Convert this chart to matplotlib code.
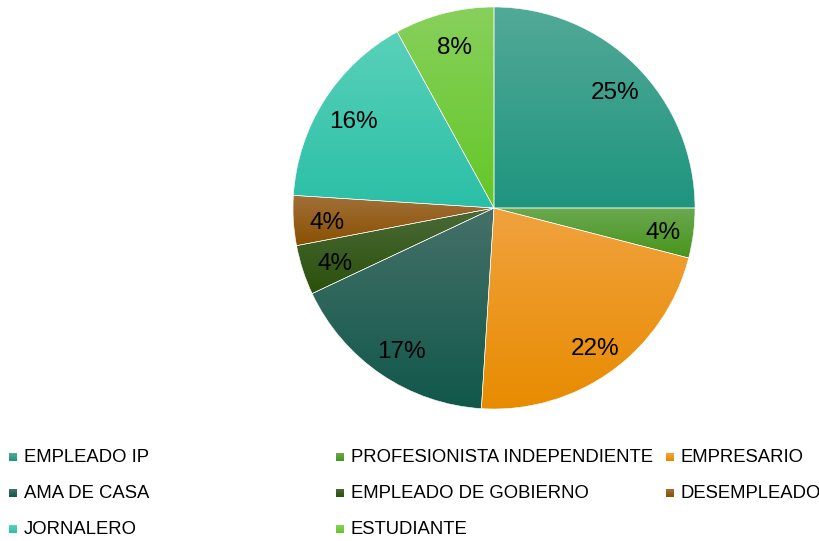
import numpy as np
import matplotlib
matplotlib.use("Agg")
import matplotlib.pyplot as plt
from matplotlib.colors import LinearSegmentedColormap

plt.rcParams['font.family'] = ['Liberation Sans', 'DejaVu Sans']

categories = ["EMPLEADO IP", "PROFESIONISTA INDEPENDIENTE", "EMPRESARIO",
              "AMA DE CASA", "EMPLEADO DE GOBIERNO", "DESEMPLEADO",
              "JORNALERO", "ESTUDIANTE"]
values = [25, 4, 22, 17, 4, 4, 16, 8]
top_colors = ["#52a997", "#6aa84f", "#f0a23e", "#467069", "#4a6a38", "#a2703a", "#5ad1b9", "#88d05c"]
bottom_colors = ["#1e957f", "#48951c", "#e88b00", "#10584a", "#2b500a", "#895000", "#2bbfa7", "#63c726"]

W, H = 820, 541
fig = plt.figure(figsize=(W / 100, H / 100), dpi=100)
fig.patch.set_facecolor("white")

cx, cy, r = 494, 208, 201
ax = fig.add_axes([(cx - r) / W, (H - cy - r) / H, 2 * r / W, 2 * r / H])
ax.set_aspect('equal')
ax.axis('off')

wedges, texts, autotexts = ax.pie(
    values, startangle=90, counterclock=False, radius=1,
    colors=bottom_colors, autopct=lambda p: f"{p:.0f}%", pctdistance=0.84,
    wedgeprops=dict(edgecolor="white", linewidth=0.4),
    textprops=dict(fontsize=17.5, color="black"))

for w, tc, bc in zip(wedges, top_colors, bottom_colors):
    verts = w.get_patch_transform().transform(w.get_path().vertices)
    x0, x1 = verts[:, 0].min(), verts[:, 0].max()
    y0, y1 = verts[:, 1].min(), verts[:, 1].max()
    cmap = LinearSegmentedColormap.from_list("g", [bc, tc])
    grad = np.linspace(0, 1, 256).reshape(-1, 1)
    im = ax.imshow(grad, cmap=cmap, extent=[x0, x1, y0, y1], origin='lower',
                   aspect='auto', zorder=1.5, interpolation='bilinear')
    im.set_clip_path(w)
for w in wedges:
    w.set_facecolor("none")
    w.set_zorder(1.6)
for t in autotexts:
    t.set_zorder(3)
    x, y = t.get_position()
    t.set_position((x + 2 / r, y - 4 / r))
ax.set_xlim(-1, 1)
ax.set_ylim(-1, 1)

# legend, laid out row-wise in 3 columns
col_x = [9, 336, 666]
row_y = [457, 493, 529]
for i, (lab, tc, bc) in enumerate(zip(categories, top_colors, bottom_colors)):
    row, col = divmod(i, 3)
    mx, my = col_x[col], row_y[row]
    lax = fig.add_axes([mx / W, (H - my - 4) / H, 8 / W, 8 / H])
    lax.axis('off')
    cmap = LinearSegmentedColormap.from_list("g", [bc, tc])
    lax.imshow(np.linspace(0, 1, 16).reshape(-1, 1), cmap=cmap, origin='lower',
               aspect='auto', extent=[0, 1, 0, 1])
    fig.text((mx + 15) / W, (H - my) / H, lab, fontsize=13.3,
             va='center', ha='left', color="black")

fig.savefig("out.png", dpi=100, facecolor="white")
